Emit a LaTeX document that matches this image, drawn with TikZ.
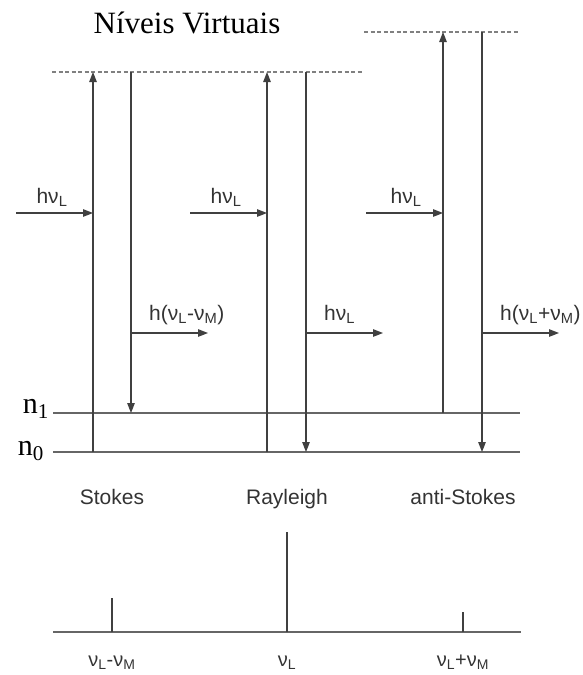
\documentclass[tikz,border=0pt]{standalone}
\usepackage{fontspec}
\setmainfont{Liberation Serif}
\newfontfamily\lblfont{Liberation Sans}
\usetikzlibrary{arrows.meta, positioning}

\begin{document}
\begin{tikzpicture}[x=1pt, y=-1pt, >={Triangle[length=10pt, width=7.5pt]},
  lvl/.style={draw=black!60, line width=1.3pt},
  vir/.style={draw=black!50, line width=1.3pt, dash pattern=on 4pt off 2.5pt},
  tr/.style={draw=black!75, line width=1.3pt},
  lbl/.style={font=\lblfont\fontsize{21}{23}\selectfont, text=black!80, inner sep=0pt}]
  \useasboundingbox (0,0) rectangle (582,675);
  \node[font=\fontsize{31}{33}\selectfont, anchor=base, inner sep=0pt] (title) at (187,33) {Níveis Virtuais};
  % levels
  \coordinate (vl0) at (52,72);  \coordinate (vl1) at (362,72);
  \coordinate (vh0) at (364,32); \coordinate (vh1) at (518,32);
  \coordinate (n1a) at (53,413); \coordinate (n1b) at (520,413);
  \coordinate (n0a) at (53,452); \coordinate (n0b) at (520,452);
  \draw[vir] (vl0) -- (vl1);
  \draw[vir] (vh0) -- (vh1);
  \draw[lvl] (n1a) -- (n1b);
  \draw[lvl] (n0a) -- (n0b);
  \node[font=\fontsize{30}{32}\selectfont, anchor=base east, inner sep=0pt] (n1) at (49,413) {n\textsubscript{1}};
  \node[font=\fontsize{30}{32}\selectfont, anchor=base east, inner sep=0pt] (n0) at (44,455) {n\textsubscript{0}};
  % transitions
  \foreach \nm/\up/\dn/\top/\from/\to/\dx/\out in {%
      s/93/131/72/452/413/36/{h(ν\textsubscript{L}-ν\textsubscript{M})},
      r/267/306/72/452/452/36/{hν\textsubscript{L}},
      a/443/482/32/413/452/40/{h(ν\textsubscript{L}+ν\textsubscript{M})}} {
    \coordinate (\nm u0) at (\up,\from);
    \coordinate (\nm u1) at (\up,\top);
    \coordinate (\nm d0) at (\dn,\top);
    \coordinate (\nm d1) at (\dn,\to);
    \coordinate (\nm in) at (\up-77,213);
    \coordinate (\nm hit) at (\up,213);
    \coordinate (\nm o0) at (\dn,333);
    \coordinate (\nm o1) at (\dn+77,333);
    \draw[tr, ->] (\nm u0) -- (\nm u1);
    \draw[tr, ->] (\nm d0) -- (\nm d1);
    \draw[tr, ->] (\nm in) -- (\nm hit);
    \draw[tr, ->] (\nm o0) -- (\nm o1);
    \node[lbl, anchor=base] (\nm lin) at (\up-77+\dx,203) {hν\textsubscript{L}};
    \node[lbl, anchor=base west] (\nm lout) at (\dn+18,320) {\out};
  }
  % spectrum
  \coordinate (ax0) at (53,632); \coordinate (ax1) at (521,632);
  \draw[lvl] (ax0) -- (ax1);
  \foreach \nm/\x/\top/\ttl/\txt in {%
      s/112/598/Stokes/{ν\textsubscript{L}-ν\textsubscript{M}},
      r/287/532/Rayleigh/{ν\textsubscript{L}},
      a/463/612/anti-Stokes/{ν\textsubscript{L}+ν\textsubscript{M}}} {
    \coordinate (\nm p0) at (\x,632);
    \coordinate (\nm p1) at (\x,\top);
    \draw[tr] (\nm p0) -- (\nm p1);
    \node[lbl, anchor=base] (\nm ttl) at (\x,504) {\ttl};
    \node[lbl, anchor=base, font=\lblfont\fontsize{20}{22}\selectfont] (\nm nu) at (\x,666) {\txt};
  }
\end{tikzpicture}
\end{document}
